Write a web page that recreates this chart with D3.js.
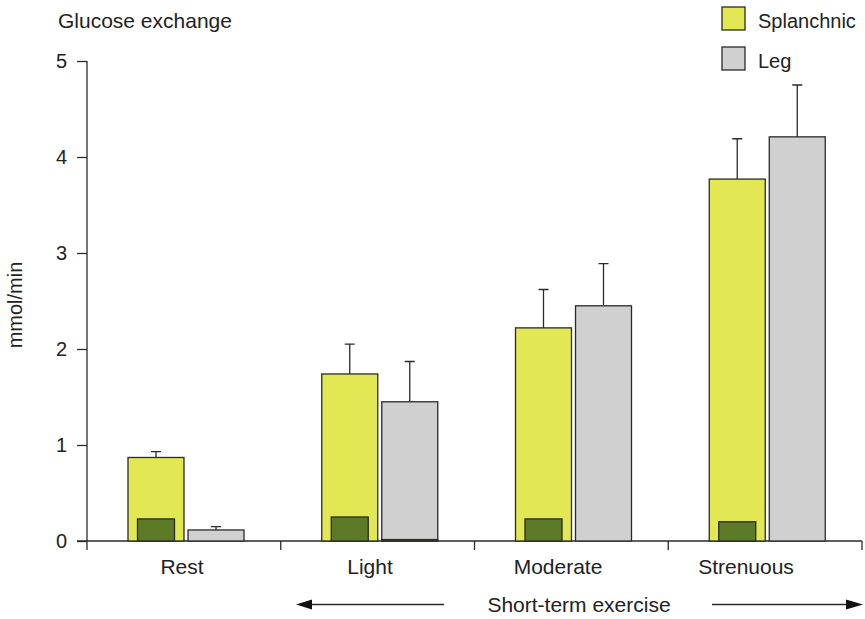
<!DOCTYPE html>
<html>
<head>
<meta charset="utf-8">
<script src="https://cdn.jsdelivr.net/npm/d3@7"></script>
<style>
  html, body { margin: 0; padding: 0; background: #fff; }
  svg text { font-family: "Liberation Sans", Arial, Helvetica, sans-serif; fill: #222; }
</style>
</head>
<body>
<div id="chart"></div>
<script>
// values (mmol/min)
const categories = ["Rest", "Light", "Moderate", "Strenuous"];
const splanchnic = [0.87, 1.74, 2.22, 3.77];
const splanchnicErr = [0.06, 0.31, 0.40, 0.42];
const splanchnicInner = [0.23, 0.25, 0.23, 0.2];
const leg = [0.115, 1.45, 2.45, 4.21];
const legErr = [0.035, 0.42, 0.44, 0.54];
const legInner = [0, 0.015, 0, 0];
const yTicks = [0, 1, 2, 3, 4, 5];
const seriesNames = ["Splanchnic", "Leg"];

const colors = { Splanchnic: "#e2e853", Leg: "#d0d0d0", inner: "#5d7a27" };
const stroke = "#2a2a2a";

const width = 865, height = 619;

const svg = d3.select("#chart")
  .append("svg")
  .attr("width", width)
  .attr("height", height);

// scales
const x = d3.scaleBand().domain(categories).range([87, 862]);
const xSub = d3.scaleBand().domain(seriesNames).range([41, 157]).paddingInner(0.067);
const labelX = d3.scalePoint().domain(categories).range([182, 746]);
const y = d3.scaleLinear().domain([0, 5]).range([541, 61]);

// y axis
const yAxis = d3.axisLeft(y).tickValues(yTicks).tickFormat(d3.format("d")).tickSize(10).tickPadding(10);
const gy = svg.append("g").attr("transform", "translate(87,0)").call(yAxis);
gy.select(".domain").remove();
gy.append("line").attr("y1", y(5)).attr("y2", y(0)).attr("stroke", stroke).attr("stroke-width", 1.3);
gy.selectAll(".tick line").attr("stroke", stroke).attr("stroke-width", 1.3);
gy.selectAll(".tick text").attr("font-size", 20).attr("fill", "#222");

// x axis: baseline with downward ticks at band edges
const gx = svg.append("g");
gx.append("line")
  .attr("x1", 77).attr("x2", x.range()[1])
  .attr("y1", y(0)).attr("y2", y(0))
  .attr("stroke", stroke).attr("stroke-width", 1.3);
const edges = categories.map(c => x(c)).concat([x.range()[1]]);
gx.selectAll(".xtick")
  .data(edges)
  .enter()
  .append("line")
  .attr("x1", d => d).attr("x2", d => d)
  .attr("y1", y(0)).attr("y2", y(0) + 9)
  .attr("stroke", stroke).attr("stroke-width", 1.3);
gx.selectAll(".xlabel")
  .data(categories)
  .enter()
  .append("text")
  .attr("x", d => labelX(d))
  .attr("y", 574)
  .attr("text-anchor", "middle")
  .attr("font-size", 21)
  .text(d => d);

// bars
const rows = categories.map((c, i) => [
  { cat: c, name: "Splanchnic", value: splanchnic[i], err: splanchnicErr[i], inner: splanchnicInner[i] },
  { cat: c, name: "Leg", value: leg[i], err: legErr[i], inner: legInner[i] },
]).flat();

const bw = xSub.bandwidth();
const barX = d => x(d.cat) + xSub(d.name);

const bars = svg.append("g");

// error bars drawn first so the bar outline sits over their base
bars.selectAll(".err")
  .data(rows)
  .enter()
  .append("path")
  .attr("d", d => {
    const cx = barX(d) + bw / 2;
    const top = y(d.value + d.err);
    return `M${cx},${y(d.value)}V${top}M${cx - 5},${top}H${cx + 5}`;
  })
  .attr("fill", "none")
  .attr("stroke", stroke)
  .attr("stroke-width", 1.3);

bars.selectAll(".bar")
  .data(rows)
  .enter()
  .append("rect")
  .attr("x", barX)
  .attr("y", d => y(d.value))
  .attr("width", bw)
  .attr("height", d => y(0) - y(d.value))
  .attr("fill", d => colors[d.name])
  .attr("stroke", stroke)
  .attr("stroke-width", 1.3);

const innerW = 37;
bars.selectAll(".inner")
  .data(rows.filter(d => d.inner > 0))
  .enter()
  .append("rect")
  .attr("x", d => d.name === "Leg" ? barX(d) : barX(d) + (bw - innerW) / 2)
  .attr("y", d => y(d.inner))
  .attr("width", d => d.name === "Leg" ? bw : innerW)
  .attr("height", d => y(0) - y(d.inner))
  .attr("fill", colors.inner)
  .attr("stroke", stroke)
  .attr("stroke-width", 1.3);

// titles
svg.append("text")
  .attr("x", 58).attr("y", 28)
  .attr("font-size", 21)
  .text("Glucose exchange");

svg.append("text")
  .attr("transform", "translate(22,305) rotate(-90)")
  .attr("text-anchor", "middle")
  .attr("font-size", 20)
  .text("mmol/min");

// legend
const legend = svg.append("g");
seriesNames.forEach((name, i) => {
  const g = legend.append("g").attr("transform", `translate(722,${7 + i * 40})`);
  g.append("rect")
    .attr("width", 23).attr("height", 23)
    .attr("fill", colors[name])
    .attr("stroke", stroke).attr("stroke-width", 1.3);
  g.append("text")
    .attr("x", 36).attr("y", 21)
    .attr("font-size", 20)
    .text(name);
});

// "Short-term exercise" with arrows
const ay = 604.5;
const arrows = svg.append("g");
arrows.append("line").attr("x1", 300).attr("x2", 444).attr("y1", ay).attr("y2", ay)
  .attr("stroke", stroke).attr("stroke-width", 1.5);
arrows.append("path").attr("d", `M296,${ay}L312,${ay - 5}L312,${ay + 5}Z`).attr("fill", "#111");
arrows.append("line").attr("x1", 712).attr("x2", 850).attr("y1", ay).attr("y2", ay)
  .attr("stroke", stroke).attr("stroke-width", 1.5);
arrows.append("path").attr("d", `M863,${ay}L846,${ay - 5}L846,${ay + 5}Z`).attr("fill", "#111");
svg.append("text")
  .attr("x", 579).attr("y", 612)
  .attr("text-anchor", "middle")
  .attr("font-size", 21)
  .text("Short-term exercise");
</script>
</body>
</html>
